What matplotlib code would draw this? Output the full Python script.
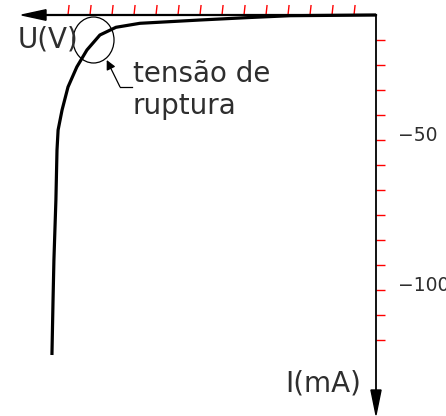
import numpy as np
import matplotlib
matplotlib.use("Agg")
import matplotlib.pyplot as plt
from matplotlib.patches import Ellipse, Polygon

# reverse characteristic of the diode (U in V, I in mA)
u_vals = [0, -3.91, -5.73, -8.0, -10.73, -11.82, -12.55, -13.14, -13.6, -14.0,
          -14.27, -14.45, -14.5, -14.55, -14.64, -14.68, -14.73]
i_vals = [0, -0.28, -1.0, -2.0, -3.32, -4.92, -8.0, -14.0, -20.8, -28.8,
          -38.0, -46.0, -54.0, -74.0, -98.0, -114.0, -136.0]

u_ticks = [-14, -13, -12, -11, -10, -9, -8, -7, -6, -5, -4, -3, -2, -1]
i_ticks = [-10, -20, -30, -40, -50, -60, -70, -80, -90, -100, -110, -120, -130]
i_labels = ["\u221250", "\u2212100"]
i_label_pos = [-48, -108]

fnt = "DejaVu Sans"
tcol = "#2e2e2e"

fig = plt.figure(figsize=(4.46, 4.16), dpi=100)
ax = fig.add_axes([0, 0, 1, 1])
ax.set_xlim(-376 / 22, 70 / 22)
ax.set_ylim(-401 * 0.4, 15 * 0.4)
ax.axis("off")

# tick marks (red)
for u in u_ticks:
    ax.plot([u, u + 0.05], [0, 4], color="red", lw=1.0, solid_capstyle="butt")
for i in i_ticks:
    ax.plot([0, 0.42], [i, i], color="red", lw=1.0, solid_capstyle="butt")

# axes with arrows
ax.plot([-15.1, 0], [0, 0], color="black", lw=1.6)
ax.plot([0, 0], [0, -150], color="black", lw=1.3)
ax.add_patch(Polygon([[-16.1, 0], [-15.0, 2.1], [-15.0, -2.1]], closed=True, color="black"))
ax.add_patch(Polygon([[0, -160.0], [-0.23, -150], [0.23, -150]], closed=True, color="black"))

# curve
ax.plot(u_vals, i_vals, color="black", lw=2.3, solid_capstyle="butt", solid_joinstyle="round")

# breakdown circle and leader
ax.add_patch(Ellipse((-12.84, -10.0), 41 / 22, 46 * 0.4, fill=False, color="black", lw=0.9))
ax.annotate("", xy=(-12.24, -18.0), xytext=(-11.64, -28.7),
            arrowprops=dict(arrowstyle="-|>", color="black", lw=0.9, mutation_scale=14,
                            shrinkA=0, shrinkB=0))
ax.plot([-11.64, -11.1], [-28.7, -28.7], color="black", lw=0.9)

ax.text(-11.05, -26.8, "tens\u00e3o de", fontsize=20, family=fnt, color=tcol,
        ha="left", va="baseline")
ax.text(-11.05, -39.6, "ruptura", fontsize=20, family=fnt, color=tcol,
        ha="left", va="baseline")

ax.text(-16.3, -12.8, "U(V)", fontsize=20, family=fnt, color=tcol, ha="left", va="baseline")
ax.text(-4.14, -150.7, "I(mA)", fontsize=20, family=fnt, color=tcol, ha="left", va="baseline")

for lab, pos in zip(i_labels, i_label_pos):
    ax.text(0.98, pos, lab, fontsize=13.5, family=fnt, color=tcol, ha="left", va="center")

fig.savefig("out.png", dpi=100)
